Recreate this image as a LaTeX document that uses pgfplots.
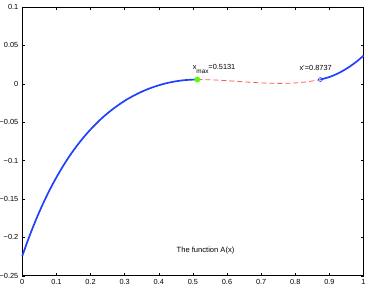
\documentclass[border=0pt]{standalone}
\usepackage{fontspec}
\setmainfont{Liberation Sans}
\usepackage{pgfplots}
\pgfplotsset{compat=1.18}
\definecolor{mblue}{rgb}{0.12,0.25,1.0}
\definecolor{mred}{rgb}{1.0,0.35,0.35}
\definecolor{mgreen}{rgb}{0.35,1.0,0.0}
\begin{document}
\begin{tikzpicture}
\begin{axis}[name=ax,
  scale only axis, width=341.2bp, height=268.7bp,
  xmin=0, xmax=1, ymin=-0.25, ymax=0.1,
  xtick={0,0.1,0.2,0.3,0.4,0.5,0.6,0.7,0.8,0.9,1},
  xticklabels={0,0.1,0.2,0.3,0.4,0.5,0.6,0.7,0.8,0.9,1},
  ytick={-0.25,-0.2,-0.15,-0.1,-0.05,0,0.05,0.1},
  yticklabels={−0.25,−0.2,−0.15,−0.1,−0.05,0,0.05,0.1},
  tick align=inside, major tick length=3bp,
  tick style={black, line width=0.4bp},
  axis line style={black, line width=0.5bp},
  ticklabel style={font=\fontsize{7.4}{8.4}\selectfont},
  yticklabel style={xshift=-0.5bp},
  clip=false,
]
\addplot[mblue, line width=1.7bp, smooth] coordinates {
(0,-0.2243) (0.02,-0.1996) (0.04,-0.1772) (0.06,-0.1569) (0.08,-0.1385)
(0.1,-0.1219) (0.12,-0.1068) (0.14,-0.0931) (0.16,-0.0808) (0.18,-0.0696)
(0.2,-0.0595) (0.22,-0.0504) (0.24,-0.0421) (0.26,-0.0348) (0.28,-0.0282)
(0.3,-0.0222) (0.32,-0.0170) (0.34,-0.0124) (0.36,-0.0084) (0.38,-0.0049)
(0.4,-0.0020) (0.42,0.0005) (0.44,0.0024) (0.46,0.0039) (0.48,0.0049)
(0.5,0.0054) (0.5131,0.0055)};
\addplot[mred, line width=0.8bp, dash pattern=on 5bp off 3bp, smooth] coordinates {
(0.5131,0.0055) (0.55,0.0052) (0.575,0.0047) (0.6,0.0040) (0.625,0.0033)
(0.65,0.0025) (0.675,0.0018) (0.7,0.0011) (0.725,0.0007) (0.75,0.0005)
(0.775,0.0006) (0.8,0.0011) (0.825,0.0021) (0.85,0.0036) (0.8737,0.0055)};
\addplot[only marks, mark=o, mark size=2bp, mark options={draw=mblue, line width=0.6bp}] coordinates {(0.8737,0.0055)};
\addplot[mblue, line width=1.7bp, smooth] coordinates {
(0.8737,0.0055) (0.9,0.0088) (0.92,0.0124) (0.94,0.0170) (0.96,0.0225)
(0.98,0.0290) (1,0.0365)};
\addplot[only marks, mark=*, mark size=2.7bp, mark options={fill=mgreen, draw=mgreen}] coordinates {(0.5131,0.0055)};
\node[anchor=base west, inner sep=0pt, font=\fontsize{7.4}{8.4}\selectfont] at (axis cs:0.499,0.018) {x\raisebox{-3.8bp}{\fontsize{6.4}{7}\selectfont max}=0.5131};
\node[anchor=base west, inner sep=0pt, font=\fontsize{7.4}{8.4}\selectfont] at (axis cs:0.812,0.0173) {x'=0.8737};
\node[anchor=base, inner sep=0pt, font=\fontsize{7.6}{8.6}\selectfont] at (axis cs:0.537,-0.2203) {The function A(x)};
\end{axis}
\pgfresetboundingbox
\useasboundingbox ([shift={(-22.3bp,-12.3bp)}]ax.south west) rectangle ([shift={(7.5bp,7bp)}]ax.north east);
\end{tikzpicture}
\end{document}
